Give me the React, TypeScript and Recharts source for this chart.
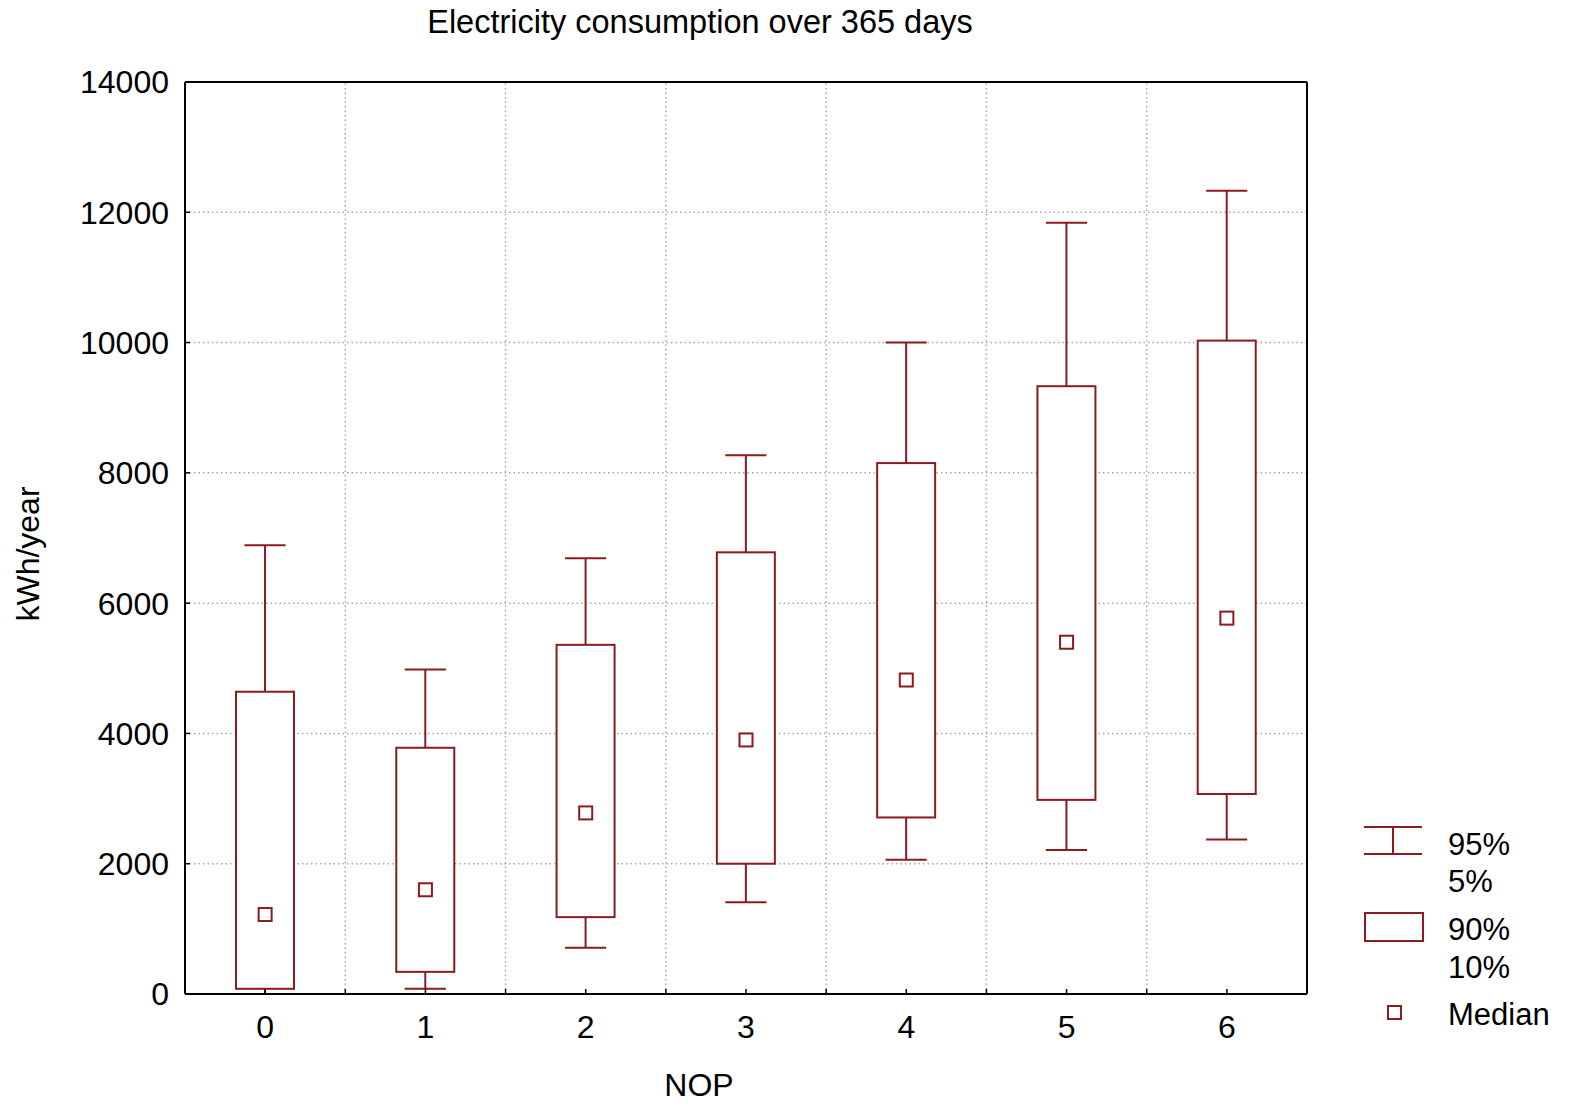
import React from 'react';
import {
  ComposedChart,
  Bar,
  Line,
  XAxis,
  YAxis,
  CartesianGrid,
  ReferenceLine,
} from 'recharts';

// ---- data ----
const NOP = [0, 1, 2, 3, 4, 5, 6];
const P5 = [0, 80, 710, 1410, 2060, 2210, 2370];
const P10 = [80, 340, 1180, 2000, 2710, 2980, 3070];
const MEDIAN = [1220, 1600, 2780, 3900, 4820, 5400, 5770];
const P90 = [4640, 3780, 5360, 6780, 8150, 9330, 10030];
const P95 = [6890, 4980, 6690, 8270, 10000, 11840, 12330];

const Y_TICKS = [0, 2000, 4000, 6000, 8000, 10000, 12000, 14000];
const CATEGORY_BOUNDARIES = [0.5, 1.5, 2.5, 3.5, 4.5, 5.5];
const X_DOMAIN = [-0.5, 6.5];
const Y_DOMAIN = [0, 14000];

const TITLE = 'Electricity consumption over 365 days';
const X_LABEL = 'NOP';
const Y_LABEL = 'kWh/year';
const LEGEND_WHISKER = ['95%', '5%'];
const LEGEND_BOX = ['90%', '10%'];
const LEGEND_MEDIAN = 'Median';

// ---- styles ----
const RED = '#8c1a1e';
const FONT = '"Liberation Sans", Arial, sans-serif';
const FS = 32;

const data = NOP.map((n, i) => ({
  nop: n,
  base: P5[i],
  lower: P10[i] - P5[i],
  box: P90[i] - P10[i],
  upper: P95[i] - P90[i],
  median: MEDIAN[i],
}));

const xTicks = [...NOP, ...CATEGORY_BOUNDARIES].sort((a, b) => a - b);

const EmptyShape = () => <g />;

const LowerWhisker = (p: any) => {
  const { x, y, width, height } = p;
  const cx = x + width / 2;
  const half = width * 0.355;
  return (
    <g stroke={RED} strokeWidth={2}>
      <line x1={cx} x2={cx} y1={y} y2={y + height} />
      <line x1={cx - half} x2={cx + half} y1={y + height} y2={y + height} />
    </g>
  );
};

const UpperWhisker = (p: any) => {
  const { x, y, width, height } = p;
  const cx = x + width / 2;
  const half = width * 0.355;
  return (
    <g stroke={RED} strokeWidth={2}>
      <line x1={cx} x2={cx} y1={y} y2={y + height} />
      <line x1={cx - half} x2={cx + half} y1={y} y2={y} />
    </g>
  );
};

const BoxShape = (p: any) => {
  const { x, y, width, height } = p;
  return <rect x={x} y={y} width={width} height={height} fill="#fff" stroke={RED} strokeWidth={2} />;
};

const MedianDot = (p: any) => {
  const { cx, cy, index } = p;
  if (cx == null || cy == null) return <g key={`m-${index}`} />;
  return (
    <rect key={`m-${index}`} x={cx - 6.5} y={cy - 6.5} width={13} height={13} fill="#fff" stroke={RED} strokeWidth={2} />
  );
};

const YLabel = (p: any) => {
  const vb = p.viewBox || {};
  const x = (vb.x || 0) + 39;
  const y = (vb.y || 0) + (vb.height || 0) / 2 + 16;
  return (
    <text x={x} y={y} transform={`rotate(-90 ${x} ${y})`} textAnchor="middle" fontSize={FS} fontFamily={FONT} fill="#000">
      {Y_LABEL}
    </text>
  );
};

const XLabel = (p: any) => {
  const vb = p.viewBox || {};
  const x = (vb.x || 0) + (vb.width || 0) / 2 - 47;
  const y = (vb.y || 0) + 102;
  return (
    <text x={x} y={y} textAnchor="middle" fontSize={FS} fontFamily={FONT} fill="#000">
      {X_LABEL}
    </text>
  );
};

const tickStyle = { fontSize: FS, fontFamily: FONT, fill: '#000' };

export default function App() {
  return (
    <div style={{ position: 'absolute', left: 0, top: 0, width: 1574, height: 1107, background: '#fff' }}>
      <ComposedChart
        width={1574}
        height={1107}
        data={data}
        margin={{ top: 82, right: 267, bottom: 53, left: 0 }}
      >
        <CartesianGrid vertical={false} stroke="#a8a8a8" strokeDasharray="1.5 3" strokeWidth={1.5} />
        {CATEGORY_BOUNDARIES.map((b) => (
          <ReferenceLine key={b} x={b} stroke="#a8a8a8" strokeDasharray="1.5 3" strokeWidth={1.5} />
        ))}
        <ReferenceLine y={Y_DOMAIN[1]} stroke="#000" strokeWidth={2} />
        <ReferenceLine x={X_DOMAIN[1]} stroke="#000" strokeWidth={2} />
        <Bar dataKey="base" stackId="s" barSize={58} shape={EmptyShape} isAnimationActive={false} />
        <Bar dataKey="lower" stackId="s" barSize={58} shape={LowerWhisker} isAnimationActive={false} />
        <Bar dataKey="box" stackId="s" barSize={58} shape={BoxShape} isAnimationActive={false} />
        <Bar dataKey="upper" stackId="s" barSize={58} shape={UpperWhisker} isAnimationActive={false} />
        <Line
          dataKey="median"
          stroke="none"
          dot={MedianDot}
          activeDot={false}
          isAnimationActive={false}
          legendType="none"
        />
        <XAxis
          dataKey="nop"
          type="number"
          domain={X_DOMAIN}
          ticks={xTicks}
          interval={0}
          allowDataOverflow
          height={60}
          tickSize={-5}
          tickMargin={26}
          tickFormatter={(v: number) => (Number.isInteger(v) ? String(v) : '')}
          tick={tickStyle}
          axisLine={{ stroke: '#000', strokeWidth: 2 }}
          tickLine={{ stroke: '#000', strokeWidth: 1.5 }}
          label={<XLabel />}
        />
        <YAxis
          type="number"
          domain={Y_DOMAIN}
          ticks={Y_TICKS}
          interval={0}
          width={185}
          tickSize={-5}
          tickMargin={21}
          tick={tickStyle}
          axisLine={{ stroke: '#000', strokeWidth: 2 }}
          tickLine={{ stroke: '#000', strokeWidth: 1.5 }}
          label={<YLabel />}
        />
      </ComposedChart>
      <svg
        width={1574}
        height={1107}
        style={{ position: 'absolute', left: 0, top: 0, pointerEvents: 'none' }}
      >
        <text x={700} y={33} textAnchor="middle" fontSize={32.5} fontFamily={FONT} fill="#000">
          {TITLE}
        </text>
        {/* legend */}
        <g stroke={RED} strokeWidth={2} fill="none">
          <line x1={1364} x2={1422} y1={827} y2={827} />
          <line x1={1364} x2={1422} y1={854} y2={854} />
          <line x1={1393} x2={1393} y1={827} y2={854} />
          <rect x={1365} y={913} width={58} height={28} fill="#fff" />
          <rect x={1388} y={1006} width={13} height={13} fill="#fff" />
        </g>
        <g fontSize={31} fontFamily={FONT} fill="#000">
          <text x={1448} y={855}>{LEGEND_WHISKER[0]}</text>
          <text x={1448} y={892}>{LEGEND_WHISKER[1]}</text>
          <text x={1448} y={940}>{LEGEND_BOX[0]}</text>
          <text x={1448} y={978}>{LEGEND_BOX[1]}</text>
          <text x={1448} y={1025}>{LEGEND_MEDIAN}</text>
        </g>
      </svg>
    </div>
  );
}
